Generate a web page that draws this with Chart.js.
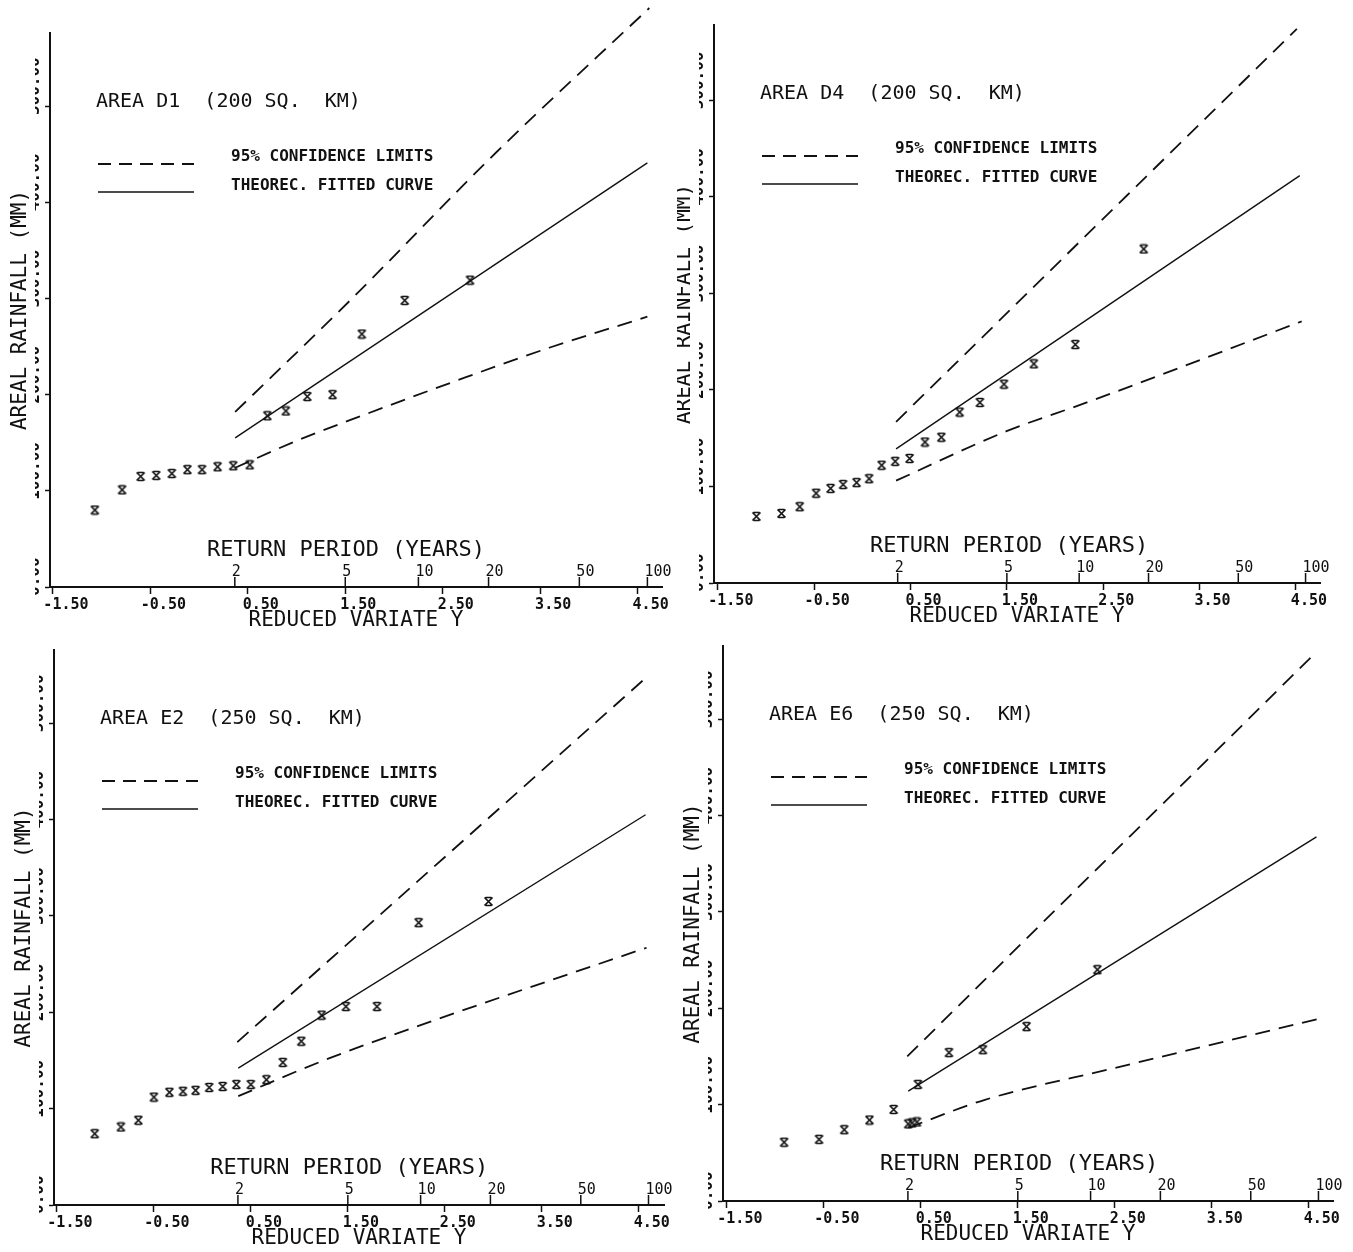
<!DOCTYPE html>
<html>
<head>
<meta charset="utf-8">
<title>Areal rainfall frequency</title>
<script src="https://cdn.jsdelivr.net/npm/chart.js@4.4.0/dist/chart.umd.min.js"></script>
<style>
  body { margin: 0; background: #fff; }
  #wrap { position: relative; width: 1353px; height: 1252px; }
  #wrap canvas { position: absolute; }
</style>
</head>
<body>
<div id="wrap"></div>
<script>
// axis ticks
const xTicks = [-1.5, -0.5, 0.5, 1.5, 2.5, 3.5, 4.5];
const yTicks = [0, 100, 200, 300, 400, 500];
const returnPeriods = [2, 5, 10, 20, 50, 100];
const legendLabels = ['95% CONFIDENCE LIMITS', 'THEOREC. FITTED CURVE'];

// AREA D1
const d1ObsX = [-1.07, -0.79, -0.60, -0.44, -0.28, -0.12, 0.03, 0.19, 0.35, 0.52, 0.70, 0.89, 1.11, 1.37, 1.67, 2.11, 2.78];
const d1ObsY = [80, 101, 115, 116, 118, 122, 122, 125, 126, 127, 178, 183, 198, 200, 263, 298, 319];
const d1FitX = [0.37, 4.60];
const d1FitY = [155, 441];
const d1UpX = [0.37, 1.55, 3.05, 4.62];
const d1UpY = [182, 298, 452, 602];
const d1LowX = [0.37, 1.00, 1.72, 2.60, 3.60, 4.60];
const d1LowY = [124, 152, 180, 213, 249, 281];

// AREA D4
const d4ObsX = [-1.10, -0.84, -0.65, -0.48, -0.33, -0.20, -0.06, 0.07, 0.20, 0.34, 0.49, 0.65, 0.82, 1.01, 1.22, 1.47, 1.78, 2.21, 2.92];
const d4ObsY = [69, 72, 79, 93, 98, 102, 104, 108, 122, 126, 129, 146, 151, 177, 187, 206, 227, 247, 346];
const d4FitX = [0.35, 4.54];
const d4FitY = [139, 422];
const d4UpX = [0.35, 4.51];
const d4UpY = [167, 574];
const d4LowX = [0.35, 1.49, 2.33, 4.56];
const d4LowY = [106, 157, 187, 271];

// AREA E2
const e2ObsX = [-1.11, -0.84, -0.66, -0.50, -0.34, -0.20, -0.07, 0.07, 0.21, 0.35, 0.50, 0.66, 0.83, 1.02, 1.23, 1.48, 1.80, 2.23, 2.95];
const e2ObsY = [74, 81, 88, 112, 117, 118, 119, 122, 123, 125, 125, 130, 148, 170, 197, 206, 206, 293, 315];
const e2FitX = [0.37, 4.57];
const e2FitY = [142, 405];
const e2UpX = [0.36, 4.56];
const e2UpY = [169, 546];
const e2LowX = [0.37, 1.25, 2.40, 4.58];
const e2LowY = [113, 150, 192, 267];

// AREA E6
const e6ObsX = [-0.91, -0.55, -0.29, -0.03, 0.22, 0.37, 0.41, 0.46, 0.47, 0.79, 1.14, 1.59, 2.32];
const e6ObsY = [61, 64, 74, 84, 95, 80, 81, 82, 121, 154, 157, 181, 240];
const e6FitX = [0.37, 4.58];
const e6FitY = [114, 378];
const e6UpX = [0.36, 4.55];
const e6UpY = [150, 567];
const e6LowX = [0.37, 1.16, 2.50, 4.60];
const e6LowY = [76, 105, 138, 189];

const ink = '#111';
const mono = '"DejaVu Sans Mono", monospace';
Chart.defaults.font.family = mono;
Chart.defaults.color = ink;

// gumbel reduced variate for a return period
function reducedVariate(T) {
  return -Math.log(-Math.log(1 - 1 / T));
}

function pairs(xs, ys) {
  return xs.map((x, i) => ({ x: x, y: ys[i] }));
}

// plotter style cross marker
function makeMarker() {
  const c = document.createElement('canvas');
  c.width = 11; c.height = 11;
  const g = c.getContext('2d');
  g.strokeStyle = ink;
  g.lineWidth = 1.7;
  g.beginPath();
  g.moveTo(1.5, 1.5); g.lineTo(9.5, 9.5);
  g.moveTo(9.5, 1.5); g.lineTo(1.5, 9.5);
  g.moveTo(2.5, 1.5); g.lineTo(8.5, 1.5);
  g.moveTo(2.5, 9.5); g.lineTo(8.5, 9.5);
  g.stroke();
  return c;
}
const marker = makeMarker();

function line(ctx, x1, y1, x2, y2) {
  ctx.beginPath();
  ctx.moveTo(x1, y1);
  ctx.lineTo(x2, y2);
  ctx.stroke();
}

// area title, legend and the return period scale inside the plot
const plotDecor = {
  id: 'plotDecor',
  afterDatasetsDraw(chart, args, opts) {
    const ctx = chart.ctx;
    const a = chart.chartArea;
    const xs = chart.scales.x;
    ctx.save();
    ctx.fillStyle = ink;
    ctx.strokeStyle = ink;
    ctx.textAlign = 'left';
    ctx.textBaseline = 'middle';

    ctx.font = '20px ' + mono;
    ctx.fillText(opts.title, a.left + 46, a.top + 69);

    ctx.lineWidth = 1.8;
    ctx.setLineDash([13, 8]);
    line(ctx, a.left + 48, a.top + 131, a.left + 144, a.top + 131);
    ctx.setLineDash([]);
    ctx.lineWidth = 1.5;
    line(ctx, a.left + 48, a.top + 159, a.left + 144, a.top + 159);
    ctx.font = 'bold 16px ' + mono;
    ctx.fillText(legendLabels[0], a.left + 181, a.top + 124);
    ctx.fillText(legendLabels[1], a.left + 181, a.top + 153);

    ctx.font = '15px ' + mono;
    returnPeriods.forEach(T => {
      const px = xs.getPixelForValue(reducedVariate(T));
      line(ctx, px, a.bottom, px, a.bottom - 10);
      ctx.fillText(String(T), px - 3, a.bottom - 15);
    });
    ctx.font = '22px ' + mono;
    ctx.fillText('RETURN PERIOD (YEARS)', xs.getPixelForValue(0.08), a.bottom - 37);
    ctx.restore();
  }
};

const panels = [
  { title: 'AREA D1  (200 SQ.  KM)', obs: [d1ObsX, d1ObsY], fit: [d1FitX, d1FitY], up: [d1UpX, d1UpY], low: [d1LowX, d1LowY],
    canvas: { x: 0, y: 0, w: 676, h: 640 }, area: { l: 50, t: 33, r: 662, b: 587 }, xMin: -1.53, xMax: 4.75, yMax: 576 },
  { title: 'AREA D4  (200 SQ.  KM)', obs: [d4ObsX, d4ObsY], fit: [d4FitX, d4FitY], up: [d4UpX, d4UpY], low: [d4LowX, d4LowY],
    canvas: { x: 677, y: 0, w: 676, h: 640 }, area: { l: 714, t: 25, r: 1320, b: 583 }, xMin: -1.54, xMax: 4.75, yMax: 578 },
  { title: 'AREA E2  (250 SQ.  KM)', obs: [e2ObsX, e2ObsY], fit: [e2FitX, e2FitY], up: [e2UpX, e2UpY], low: [e2LowX, e2LowY],
    canvas: { x: 0, y: 630, w: 676, h: 622 }, area: { l: 54, t: 650, r: 664, b: 1205 }, xMin: -1.53, xMax: 4.76, yMax: 576 },
  { title: 'AREA E6  (250 SQ.  KM)', obs: [e6ObsX, e6ObsY], fit: [e6FitX, e6FitY], up: [e6UpX, e6UpY], low: [e6LowX, e6LowY],
    canvas: { x: 677, y: 630, w: 676, h: 622 }, area: { l: 723, t: 646, r: 1333, b: 1201 }, xMin: -1.54, xMax: 4.75, yMax: 576 }
];

const Y_AXIS_W = 15;
const X_AXIS_H = 46;

const wrap = document.getElementById('wrap');

panels.forEach(p => {
  const cv = document.createElement('canvas');
  cv.width = p.canvas.w;
  cv.height = p.canvas.h;
  cv.style.left = p.canvas.x + 'px';
  cv.style.top = p.canvas.y + 'px';
  wrap.appendChild(cv);

  const limitStyle = { showLine: true, borderColor: ink, borderWidth: 1.8, borderDash: [15, 9], pointRadius: 0, cubicInterpolationMode: 'monotone', clip: false };

  new Chart(cv, {
    type: 'scatter',
    data: {
      datasets: [
        { label: 'observed', data: pairs(p.obs[0], p.obs[1]), pointStyle: marker, pointRadius: 4, clip: false },
        { label: 'fitted', data: pairs(p.fit[0], p.fit[1]), showLine: true, borderColor: ink, borderWidth: 1.4, pointRadius: 0, clip: false },
        Object.assign({ label: 'upper 95%', data: pairs(p.up[0], p.up[1]) }, limitStyle),
        Object.assign({ label: 'lower 95%', data: pairs(p.low[0], p.low[1]) }, limitStyle)
      ]
    },
    options: {
      responsive: false,
      animation: false,
      devicePixelRatio: 1,
      events: [],
      layout: {
        padding: {
          left: p.area.l - p.canvas.x - Y_AXIS_W,
          top: p.area.t - p.canvas.y,
          right: p.canvas.x + p.canvas.w - p.area.r,
          bottom: p.canvas.y + p.canvas.h - p.area.b - X_AXIS_H
        }
      },
      plugins: {
        legend: { display: false },
        tooltip: { enabled: false },
        plotDecor: { title: p.title }
      },
      scales: {
        x: {
          type: 'linear',
          min: p.xMin,
          max: p.xMax,
          afterBuildTicks: s => { s.ticks = xTicks.map(v => ({ value: v })); },
          afterFit: s => { s.height = X_AXIS_H; },
          grid: { drawOnChartArea: false, tickLength: 7, color: ink, tickWidth: 1.5 },
          border: { display: true, color: ink, width: 2 },
          ticks: { autoSkip: false, maxRotation: 0, padding: 2, labelOffset: 13, color: ink,
                   font: { family: mono, size: 15, weight: 'bold' },
                   callback: v => Number(v).toFixed(2) },
          title: { display: true, text: 'REDUCED VARIATE Y', color: ink,
                   font: { family: mono, size: 21 }, padding: 0 }
        },
        y: {
          type: 'linear',
          min: 0,
          max: p.yMax,
          afterBuildTicks: s => { s.ticks = yTicks.map(v => ({ value: v })); },
          afterFit: s => { s.width = Y_AXIS_W; },
          grid: { drawOnChartArea: false, tickLength: 5, color: ink, tickWidth: 1.5 },
          border: { display: true, color: ink, width: 2 },
          ticks: { autoSkip: false, minRotation: 90, maxRotation: 90, crossAlign: 'far',
                   labelOffset: 9, padding: 0, color: ink,
                   font: { family: mono, size: 16, weight: 'bold' },
                   callback: v => Number(v).toFixed(2) },
          title: { display: true, text: 'AREAL RAINFALL (MM)', color: ink,
                   font: { family: mono, size: 21 }, padding: { top: -27, bottom: 0 } }
        }
      }
    },
    plugins: [plotDecor]
  });
});
</script>
</body>
</html>
